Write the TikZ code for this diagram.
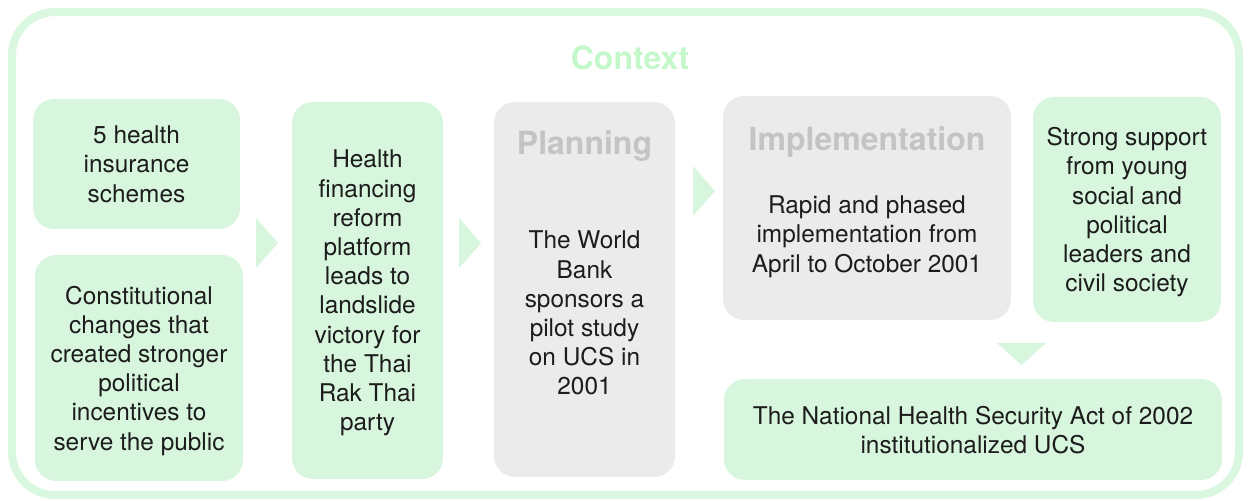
\documentclass[tikz,border=0pt]{standalone}
\usepackage{fontspec}
\setmainfont{TeX Gyre Heros}
\usetikzlibrary{positioning,calc}
\definecolor{mintfill}{RGB}{215,246,221}
\definecolor{mintframe}{RGB}{218,247,223}
\definecolor{mintarrow}{RGB}{215,246,221}
\definecolor{contextgreen}{RGB}{196,248,202}
\definecolor{greyfill}{RGB}{235,235,235}
\definecolor{headgrey}{RGB}{196,196,196}
\definecolor{inktext}{RGB}{28,28,28}

\begin{document}
\begin{tikzpicture}[x=0.5pt,y=-0.5pt,
  box/.style={rounded corners=10.5pt,inner sep=0pt,align=center,text depth=0pt,
    font=\fontsize{12.2}{14.6}\selectfont,text=inktext},
  greenbox/.style={box,fill=mintfill},
  greybox/.style={box,fill=greyfill},
  heading/.style={anchor=base,font=\fontsize{16}{19}\selectfont\bfseries,text=headgrey},
  arrowfill/.style={fill=mintarrow}]
\useasboundingbox (0,0) rectangle (1248,501);

% the outer frame and its title
\draw[mintframe,line width=4pt,rounded corners=21.5pt] (12,12) rectangle (1239,495);
\node[heading,text=contextgreen] (ctx) at (630,70) {Context};

% the boxes on the left
\node[greenbox,minimum width=103.5pt,minimum height=65pt] (schemes) at (136.5,164)
  {5 health\\insurance\\schemes};
\node[greenbox,minimum width=104pt,minimum height=113pt] (constit) at (139,368)
  {Constitutional\\changes that\\created stronger\\political\\incentives to\\serve the public};
\node[greenbox,minimum width=75.5pt,minimum height=188.5pt] (reform) at (367.5,290.5)
  {Health\\financing\\reform\\platform\\leads to\\landslide\\victory for\\the Thai\\Rak Thai\\party};

% planning and implementation
\node[greybox,minimum width=90.5pt,minimum height=187.5pt] (plan) at (584.5,289.5) {};
\node[heading] (planhead) at (584.5,155) {Planning};
\node[box] (plantext) at (584.5,313)
  {The World\\Bank\\sponsors a\\pilot study\\on UCS in\\2001};
\node[greybox,minimum width=144pt,minimum height=112pt] (impl) at (867,208) {};
\node[heading] (implhead) at (867,151) {Implementation};
\node[box] (impltext) at (867,234)
  {Rapid and phased\\implementation from\\April to October 2001};

% the boxes on the right
\node[greenbox,minimum width=94pt,minimum height=112.5pt] (support) at (1127,209.5)
  {Strong support\\from young\\social and\\political\\leaders and\\civil society};
\node[greenbox,minimum width=249pt,minimum height=50.5pt] (nhsa) at (973,429.5)
  {The National Health Security Act of 2002\\institutionalized UCS};

% the arrows
\fill[arrowfill] (256,218) -- (278,243) -- (256,268) -- cycle;
\fill[arrowfill] (459,218) -- (481,243) -- (459,268) -- cycle;
\fill[arrowfill] (693,166) -- (715,191) -- (693,216) -- cycle;
\fill[arrowfill] (997,343) -- (1046,343) -- (1021.5,365) -- cycle;
\end{tikzpicture}
\end{document}
